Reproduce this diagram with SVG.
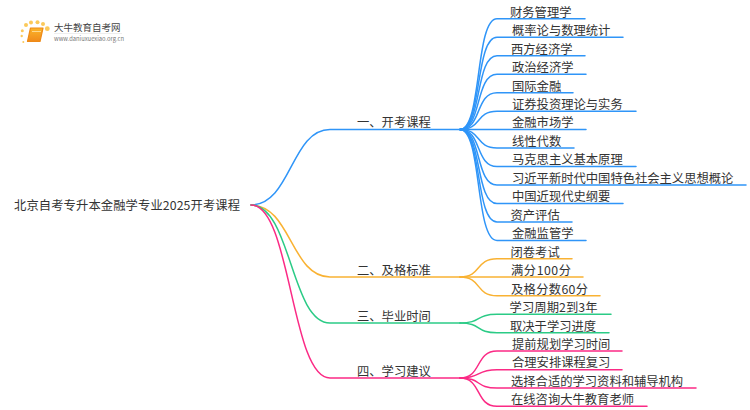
<svg xmlns="http://www.w3.org/2000/svg" width="750" height="410" viewBox="0 0 750 410">
<defs><linearGradient id="bk" x1="0" y1="0" x2="0" y2="1"><stop offset="0" stop-color="#fbb52a"/><stop offset="1" stop-color="#f08a1a"/></linearGradient></defs>
<style>
text{font-family:"Noto Sans CJK SC","Noto Sans",sans-serif;font-size:12.3px;fill:#333}
.c{fill:none;stroke-width:1.5;stroke-linecap:round}
.b{stroke:#2f95f8}.o{stroke:#f9b233}.g{stroke:#2bcb86}.p{stroke:#fb2a85}
.d{fill:#fbc95a}
</style>
<rect width="750" height="410" fill="#fff"/>
<g id="connectors">
<path class="c b" d="M251,205C291,205 291,129.5 330,129.5H460"/>
<path class="c o" d="M251,205C291,205 291,277 330,277H460"/>
<path class="c g" d="M251,205C291,205 291,323 330,323H460"/>
<path class="c p" d="M251,205C291,205 291,378 330,378H460"/>
<g class="b">
<path class="c b" d="M460,129.5C482,129.5 475,18.7 497,18.7H585"/>
<path class="c b" d="M460,129.5C482,129.5 475,37.3 497,37.3H623"/>
<path class="c b" d="M460,129.5C482,129.5 475,55.7 497,55.7H585"/>
<path class="c b" d="M460,129.5C482,129.5 475,74.3 497,74.3H586"/>
<path class="c b" d="M460,129.5C482,129.5 475,92.7 497,92.7H573"/>
<path class="c b" d="M460,129.5C482,129.5 475,111.3 497,111.3H636"/>
<path class="c b" d="M460,129.5H586"/>
<path class="c b" d="M460,129.5C482,129.5 475,148 497,148H574"/>
<path class="c b" d="M460,129.5C482,129.5 475,166.5 497,166.5H636"/>
<path class="c b" d="M460,129.5C482,129.5 475,185 497,185H746"/>
<path class="c b" d="M460,129.5C482,129.5 475,203.5 497,203.5H623"/>
<path class="c b" d="M460,129.5C482,129.5 475,222 497,222H572"/>
<path class="c b" d="M460,129.5C482,129.5 475,240.5 497,240.5H586"/>
</g>
<path class="c o" d="M460,277C482,277 475,258.7 497,258.7H572"/>
<path class="c o" d="M460,277H583"/>
<path class="c o" d="M460,277C482,277 475,295.7 497,295.7H600"/>
<path class="c g" d="M460,323C482,323 475,314.3 497,314.3H611"/>
<path class="c g" d="M460,323C482,323 475,332.7 497,332.7H609"/>
<path class="c p" d="M460,378C482,378 475,351 497,351H622"/>
<path class="c p" d="M460,378C482,378 475,369.7 497,369.7H622"/>
<path class="c p" d="M460,378C482,378 475,388 497,388H696"/>
<path class="c p" d="M460,378C482,378 475,406.3 497,406.3H647"/>
</g>
<g id="logo">
<circle class="d" cx="26" cy="25" r="2"/><circle class="d" cx="31" cy="22.500" r="2"/><circle class="d" cx="37.500" cy="22.300" r="2"/><circle class="d" cx="43" cy="24" r="2"/><circle class="d" cx="47.300" cy="28.700" r="2.400"/><circle class="d" cx="22.300" cy="30.700" r="1.500"/><circle class="d" cx="21.700" cy="36" r="1.200"/><circle class="d" cx="23.300" cy="42" r="1"/>
<path d="M30.500,28H43L40,41.500H27.500Z" fill="url(#bk)" stroke="#ee8a17" stroke-width="1.200" stroke-linejoin="round"/>
<path d="M32,31.500H41" stroke="#ffe6a8" stroke-width="0.800"/>
<text x="54" y="31" style="font-size:9.500px;fill:#444">大牛教育自考网</text>
<path d="M54,33.500H122" stroke="#ddd" stroke-width="0.500"/>
<text x="54" y="41" style="font-size:5.800px;fill:#777">www.daniuxuexiao.org.cn</text>
</g>
<g id="root"><text x="14" y="209.500" textLength="226" lengthAdjust="spacing">北京自考专升本金融学专业2025开考课程</text></g>
<g id="n1"><text x="357" y="126.500">一、开考课程</text></g>
<g id="n2"><text x="357" y="274.500">二、及格标准</text></g>
<g id="n3"><text x="357" y="320.500">三、毕业时间</text></g>
<g id="n4"><text x="357" y="375.500">四、学习建议</text></g>
<g id="c1"><text x="510" y="16.500">财务管理学</text></g>
<g id="c2"><text x="512" y="35">概率论与数理统计</text></g>
<g id="c3"><text x="511" y="53.500">西方经济学</text></g>
<g id="c4"><text x="512" y="72">政治经济学</text></g>
<g id="c5"><text x="512" y="90.500">国际金融</text></g>
<g id="c6"><text x="512" y="109">证券投资理论与实务</text></g>
<g id="c7"><text x="512" y="127">金融市场学</text></g>
<g id="c8"><text x="512" y="145.500">线性代数</text></g>
<g id="c9"><text x="512" y="164">马克思主义基本原理</text></g>
<g id="c10"><text x="512" y="182.500">习近平新时代中国特色社会主义思想概论</text></g>
<g id="c11"><text x="512" y="201">中国近现代史纲要</text></g>
<g id="c12"><text x="510.500" y="219.500">资产评估</text></g>
<g id="c13"><text x="512" y="238">金融监管学</text></g>
<g id="c14"><text x="510.500" y="256.500">闭卷考试</text></g>
<g id="c15"><text x="511" y="275" textLength="60" lengthAdjust="spacing">满分100分</text></g>
<g id="c16"><text x="511" y="293.500" textLength="77" lengthAdjust="spacing">及格分数60分</text></g>
<g id="c17"><text x="509.500" y="312" textLength="88" lengthAdjust="spacing">学习周期2到3年</text></g>
<g id="c18"><text x="510" y="330.500">取决于学习进度</text></g>
<g id="c19"><text x="512" y="349">提前规划学习时间</text></g>
<g id="c20"><text x="512" y="367">合理安排课程复习</text></g>
<g id="c21"><text x="511" y="385.500">选择合适的学习资料和辅导机构</text></g>
<g id="c22"><text x="511" y="404">在线咨询大牛教育老师</text></g>
</svg>
